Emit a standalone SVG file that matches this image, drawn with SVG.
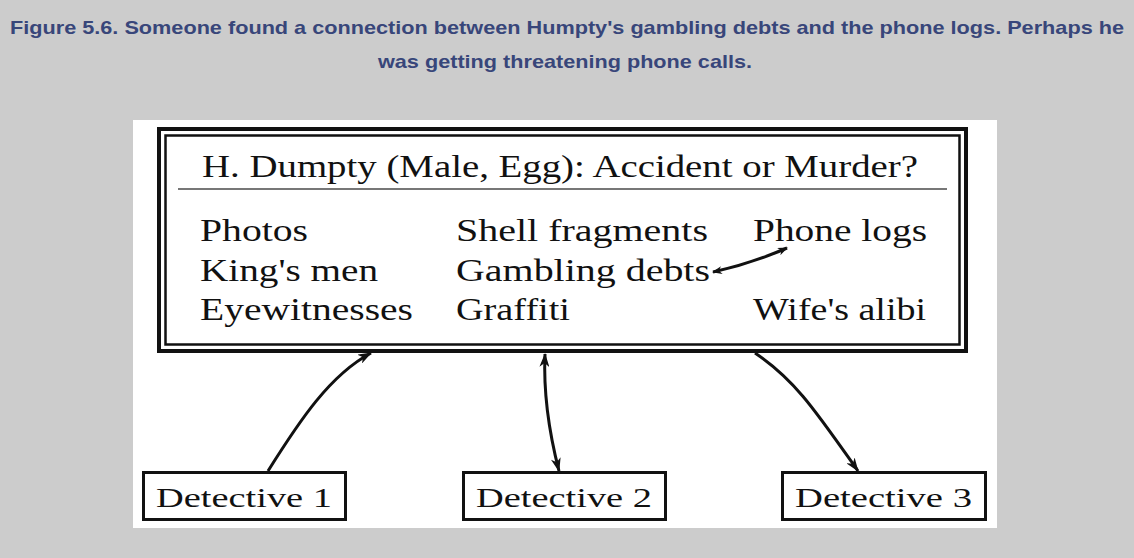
<svg xmlns="http://www.w3.org/2000/svg" width="1134" height="558" viewBox="0 0 1134 558">
<style>
.cap{font-family:"Liberation Sans",Arial,sans-serif;font-weight:bold;font-size:19px;fill:#38467a;text-anchor:middle}
.t{font-family:"Liberation Serif","Times New Roman",serif;font-size:32px;fill:#111}
.d{font-family:"Liberation Serif","Times New Roman",serif;font-size:28px;fill:#111}
.box{fill:#fff;stroke:#111;stroke-width:3}
.conn{fill:none;stroke:#111;stroke-width:3}
</style>
<defs>
<marker id="ah" viewBox="0 0 14 10" refX="13" refY="5" markerWidth="14" markerHeight="10" markerUnits="userSpaceOnUse" orient="auto-start-reverse">
<path d="M0,0 L14,5 L0,10 L4,5 z" fill="#111"/>
</marker>
<marker id="ahs" viewBox="0 0 10 8" refX="9" refY="4" markerWidth="10" markerHeight="8" markerUnits="userSpaceOnUse" orient="auto-start-reverse">
<path d="M0,0 L10,4 L0,8 L3,4 z" fill="#111"/>
</marker>
</defs>
<rect x="0" y="0" width="1134" height="558" fill="#cccccc"/>
<text class="cap" x="567" y="34" textLength="1114" lengthAdjust="spacingAndGlyphs">Figure 5.6. Someone found a connection between Humpty's gambling debts and the phone logs. Perhaps he</text>
<text class="cap" x="565" y="68" textLength="374" lengthAdjust="spacingAndGlyphs">was getting threatening phone calls.</text>
<rect x="133" y="120" width="864" height="408" fill="#fff"/>
<g id="case">
<rect x="159" y="129" width="807" height="222" fill="none" stroke="#111" stroke-width="4"/>
<rect x="165.5" y="135.5" width="794" height="209" fill="none" stroke="#111" stroke-width="2.5"/>
<line x1="178" y1="189" x2="947" y2="189" stroke="#777" stroke-width="2"/>
<text class="t" x="202" y="177" textLength="716" lengthAdjust="spacingAndGlyphs">H. Dumpty (Male, Egg): Accident or Murder?</text>
<text class="t" x="200" y="241" textLength="108" lengthAdjust="spacingAndGlyphs">Photos</text>
<text class="t" x="200" y="281" textLength="178" lengthAdjust="spacingAndGlyphs">King's men</text>
<text class="t" x="200" y="320" textLength="213" lengthAdjust="spacingAndGlyphs">Eyewitnesses</text>
<text class="t" x="456" y="241" textLength="252" lengthAdjust="spacingAndGlyphs">Shell fragments</text>
<text class="t" x="456" y="281" textLength="254" lengthAdjust="spacingAndGlyphs">Gambling debts</text>
<text class="t" x="456" y="320" textLength="114" lengthAdjust="spacingAndGlyphs">Graffiti</text>
<text class="t" x="753" y="241" textLength="174" lengthAdjust="spacingAndGlyphs">Phone logs</text>
<text class="t" x="753" y="320" textLength="173" lengthAdjust="spacingAndGlyphs">Wife's alibi</text>
</g>
<g id="det1">
<rect class="box" x="143.5" y="472.5" width="202" height="47"/>
<text class="d" x="156" y="507" textLength="176" lengthAdjust="spacingAndGlyphs">Detective 1</text>
</g>
<g id="det2">
<rect class="box" x="463.5" y="472.5" width="202" height="47"/>
<text class="d" x="476" y="507" textLength="176" lengthAdjust="spacingAndGlyphs">Detective 2</text>
</g>
<g id="det3">
<rect class="box" x="782.5" y="472.5" width="203" height="47"/>
<text class="d" x="795" y="507" textLength="177" lengthAdjust="spacingAndGlyphs">Detective 3</text>
</g>
<g id="connectors">
<path class="conn" d="M713,272 Q750,264 787,248" stroke-width="1.5" marker-start="url(#ahs)" marker-end="url(#ahs)"/>
<path class="conn" d="M268,471 C300,420 330,375 371,353" marker-end="url(#ah)"/>
<path class="conn" d="M545,354 C543,400 551,440 559,471" marker-start="url(#ah)" marker-end="url(#ah)"/>
<path class="conn" d="M755,353 C795,380 815,410 858,471" marker-end="url(#ah)"/>
</g>
</svg>
